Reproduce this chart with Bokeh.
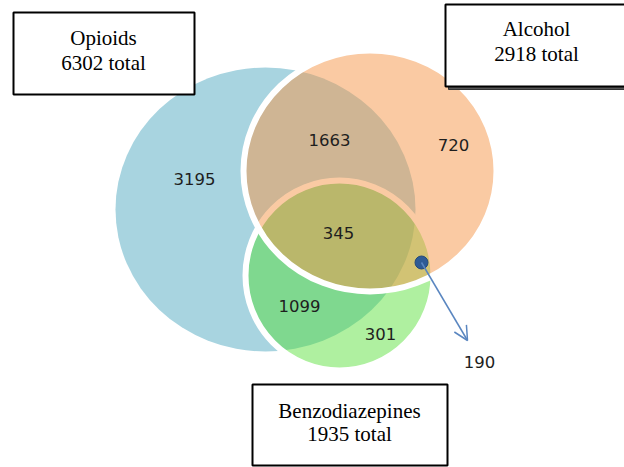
from bokeh.plotting import figure
from bokeh.models import Range1d, Arrow, OpenHead
from bokeh.core.properties import value
from bokeh.embed import file_html
from bokeh.resources import INLINE

# ---- data ----
set_names = ["Opioids", "Alcohol", "Benzodiazepines"]
set_totals = [6302, 2918, 1935]
region_names = ["Opioids only", "Opioids+Alcohol", "Alcohol only", "All three",
                "Opioids+Benzodiazepines", "Benzodiazepines only", "Alcohol+Benzodiazepines"]
region_values = [3195, 1663, 720, 345, 1099, 301, 190]

# ---- layout (pixel coordinates of the picture) ----
circle_cx = [265, 369.5, 339]
circle_cy = [209, 170.5, 275]
circle_w = [300, 253, 188]
circle_h = [284, 241, 190]
circle_fill = ["#A8D4E0", "#F59547", "#4DDE2C"]
circle_alpha = [1.0, 0.5, 0.45]

label_x = [194, 329, 453, 338, 299, 380, 479]
label_y = [178, 139, 144, 232, 305, 333, 361]

box_l = [13, 445, 252]
box_r = [194, 640, 447]
box_t = [12, 4, 384]
box_b = [94, 86, 465]
box_tx = [103, 536, 349]
box_ty1 = [37, 28, 410]
box_ty2 = [62, 53, 433]

W, H = 624, 467
p = figure(width=W, height=H, output_backend="svg", toolbar_location=None,
           x_range=Range1d(0, W), y_range=Range1d(H, 0),
           x_axis_type=None, y_axis_type=None, min_border=0,
           outline_line_color=None, background_fill_color="white")
p.grid.visible = False

# circles: blue bottom, then green, then orange on top
for i in [0, 2, 1]:
    p.ellipse(x=circle_cx[i], y=circle_cy[i], width=circle_w[i], height=circle_h[i],
              fill_color=circle_fill[i], fill_alpha=circle_alpha[i],
              line_color=None if i == 0 else "white", line_width=6)

# numbers
p.text(x=label_x, y=label_y, text=[str(v) for v in region_values],
       text_font=value("DejaVu Sans"), text_font_size="16.5px", text_color="#1e1e1e",
       text_align="center", text_baseline="middle")

# pointer for the small region
p.add_layout(Arrow(x_start=421, y_start=262, x_end=467, y_end=340,
                   line_color="#5A86C0", line_width=1.5,
                   end=OpenHead(size=14, line_color="#5A86C0", line_width=1.5)))
p.scatter(x=[421], y=[262], size=13, fill_color="#2E5B95", line_color="#24497A")

# boxes
p.quad(left=[box_l[1] + 3], right=[box_r[1] + 3], top=[box_t[1] + 3], bottom=[box_b[1] + 3],
       fill_color="#555555", line_color="#333333", line_width=1)
p.quad(left=box_l, right=box_r, top=box_t, bottom=box_b,
       fill_color="white", line_color="black", line_width=2)
p.text(x=box_tx, y=box_ty1, text=set_names, text_font=value("Liberation Serif"),
       text_font_size="21px", text_color="black", text_align="center", text_baseline="middle")
p.text(x=box_tx, y=box_ty2, text=[f"{t} total" for t in set_totals],
       text_font=value("Liberation Serif"), text_font_size="21px", text_color="black",
       text_align="center", text_baseline="middle")

open("out.html", "w").write(file_html(p, INLINE))
